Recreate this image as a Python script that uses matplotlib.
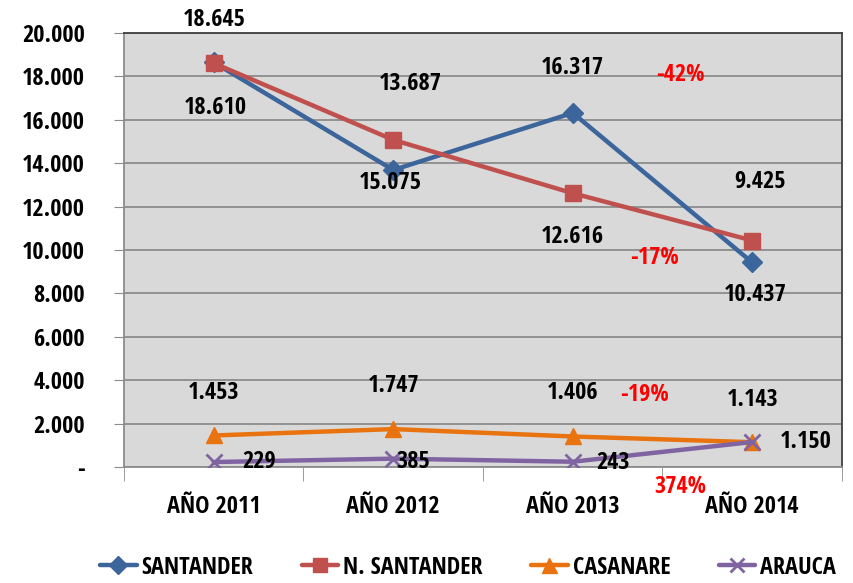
import matplotlib
matplotlib.use("Agg")
import matplotlib.pyplot as plt
from matplotlib.ticker import FixedLocator, FuncFormatter

plt.rcParams['font.family'] = ['Open Sans Condensed', 'PT Sans Narrow', 'DejaVu Sans']
plt.rcParams['font.weight'] = 'bold'

categories = ["AÑO 2011", "AÑO 2012", "AÑO 2013", "AÑO 2014"]
santander = [18645, 13687, 16317, 9425]
n_santander = [18610, 15075, 12616, 10437]
casanare = [1453, 1747, 1406, 1143]
arauca = [229, 385, 243, 1150]
y_ticks = [0, 2000, 4000, 6000, 8000, 10000, 12000, 14000, 16000, 18000, 20000]

pct_labels = ["-42%", "-17%", "-19%", "374%"]

W, H = 854, 583
FS = 17.5
fig = plt.figure(figsize=(W / 100, H / 100), dpi=100)
fig.patch.set_facecolor('white')
ax = fig.add_axes([124 / W, 1 - 467 / H, (842 - 124) / W, (467 - 33) / H])
ax.set_facecolor('#D9D9D9')

x = list(range(len(categories)))
series = [
    ("SANTANDER", santander, '#3B659B', 'D', 10),
    ("N. SANTANDER", n_santander, '#C0504D', 's', 11.5),
    ("CASANARE", casanare, '#E8730F', '^', 12),
    ("ARAUCA", arauca, '#8064A2', 'x', 11),
]
for name, vals, col, mk, ms in series:
    ax.plot(x, vals, color=col, lw=3.2, marker=mk, ms=ms, mew=2 if mk == 'x' else 1,
            mec=col, mfc=col, label=name, zorder=3, solid_capstyle='round')

ax.set_xlim(-0.5, 3.5)
ax.set_ylim(0, 20000)
ax.yaxis.set_major_locator(FixedLocator(y_ticks))
ax.yaxis.set_major_formatter(FuncFormatter(
    lambda v, p: '-' if v == 0 else f"{int(v):,}".replace(',', '.')))
ax.grid(axis='y', color='#8C8C8C', lw=1.3, zorder=1)
ax.set_axisbelow(True)
ax.tick_params(axis='y', length=7, color='#8C8C8C', labelsize=FS, pad=21)

ax.set_xticks(x)
ax.set_xticklabels(categories)
ax.tick_params(axis='x', which='major', length=0, labelsize=FS, pad=20)
ax.set_xticks([-0.5, 0.5, 1.5, 2.5, 3.5], minor=True)
ax.tick_params(axis='x', which='minor', length=10, color='#8C8C8C', direction='out')

for s in ['left', 'bottom']:
    ax.spines[s].set_color('#8C8C8C')
    ax.spines[s].set_linewidth(1.3)
for s in ['top', 'right']:
    ax.spines[s].set_color('#404040')
    ax.spines[s].set_linewidth(1.3)

label_offsets = {
    0: [(0, 42), (17, 86), (0, 45), (8, 80)],
    1: [(2, -45), (-3, -43), (0, -44), (3, -54)],
    2: [(0, 42), (0, 43), (0, 43), (0, 42)],
    3: [(45, 0), (20, -3), (40, -1), (53, 0)],
}
for si, (name, vals, col, mk, ms) in enumerate(series):
    for i, v in enumerate(vals):
        dx, dy = label_offsets[si][i]
        txt = f"{v:,}".replace(',', '.')
        ax.annotate(txt, xy=(i, v), xytext=(dx, dy), textcoords='offset pixels',
                    ha='center', va='center', fontsize=FS, color='black',
                    annotation_clip=False, zorder=5)

pct_pos = [(680, 75), (655, 258), (645, 395), (680, 487)]
for t, (px, py) in zip(pct_labels, pct_pos):
    fig.text(px / W, 1 - py / H, t, color='#FF0000', fontsize=FS,
             ha='center', va='center', zorder=6)

fig.legend(loc='center', bbox_to_anchor=(468 / W, 1 - 568 / H), ncol=4,
           frameon=False, fontsize=FS, handlelength=1.5, columnspacing=2.0,
           handletextpad=0.2, markerscale=0.9)

fig.savefig("out.png", dpi=100)
